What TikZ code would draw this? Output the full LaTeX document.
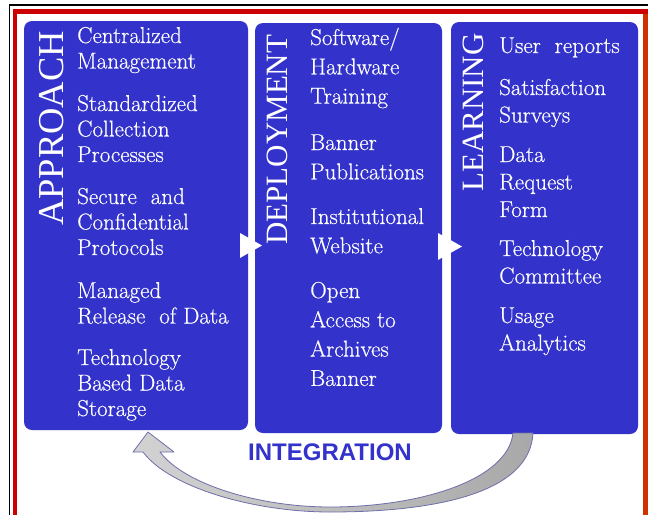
\documentclass[tikz,border=0pt]{standalone}
\usepackage{fontspec}
\setmainfont{Liberation Serif}
\newfontfamily\itemfont[FakeBold=0.4]{Latin Modern Roman}
\newfontfamily\headsans{Liberation Sans}
\definecolor{panelblue}{RGB}{51,51,204}
\definecolor{framered}{RGB}{204,0,0}
\definecolor{frameorange}{RGB}{204,51,0}
\definecolor{arrowline}{RGB}{110,110,170}
% a stack of left-aligned lines whose baseline is that of its first line
\newcommand\itemlines[1]{\begin{tabular}[t]{@{}l@{}}#1\end{tabular}}
\begin{document}
\begin{tikzpicture}[x=1pt,y=-1pt,
  panel/.style={fill=panelblue, rounded corners=8pt, inner sep=0pt},
  steplabel/.style={rotate=90, anchor=base west, inner sep=0pt, text=white},
  itemA/.style={anchor=base west, inner sep=0pt, text=white,
                font=\itemfont\fontsize{23}{25.5}\selectfont},
  itemB/.style={itemA, font=\itemfont\fontsize{23}{29.3}\selectfont},
  itemC/.style={itemA, font=\itemfont\fontsize{23}{27.5}\selectfont},
  flowmark/.style={fill=white}
]
\useasboundingbox (0,0) rectangle (648,515);
\fill[white] (0,0) rectangle (648,515);

% page frame
\draw[black, line width=1.2pt] (9.6,515) -- (9.6,5) -- (648,5);
\fill[framered] (12.5,8.5) rectangle (647.5,13.5);
\fill[framered] (12.5,8.5) rectangle (17.2,515);
\fill[frameorange] (642.5,13.5) rectangle (647.5,515);

% the three stage panels
\node[panel, minimum width=224pt, minimum height=409pt] (approach) at (136,225.5) {};
\node[panel, minimum width=187pt, minimum height=410pt] (deployment) at (348.5,228) {};
\node[panel, minimum width=187pt, minimum height=412pt] (learning) at (544.5,228) {};

% flow markers between panels
\fill[flowmark] (240,233) -- (262,245.5) -- (240,258) -- cycle;
\fill[flowmark] (438,233) -- (462,246.5) -- (438,260) -- cycle;

% stage titles
\node[steplabel, font=\rmfamily\fontsize{36.5}{40}\selectfont] (approachlabel) at (63,226) {APPROACH};
\node[steplabel, font=\rmfamily\fontsize{31}{34}\selectfont] (deploymentlabel) at (287,245) {DEPLOYMENT};
\node[steplabel, font=\rmfamily\fontsize{31}{34}\selectfont] (learninglabel) at (483,192) {LEARNING};

% approach items
\node[itemA] (a1) at (77,43)  {\itemlines{Centralized\\Management}};
\node[itemA] (a2) at (77,111) {\itemlines{Standardized\\Collection\\Processes}};
\node[itemA] (a3) at (77,204) {\itemlines{Secure\ \ and\\Confidential\\Protocols}};
\node[itemA] (a4) at (77,298) {\itemlines{Managed\\Release\ \ of Data}};
\node[itemA] (a5) at (77,365) {\itemlines{Technology\\Based Data\\Storage}};

% deployment items
\node[itemB] (d1) at (310,45)  {\itemlines{Software/\\Hardware\\Training}};
\node[itemB] (d2) at (310,150) {\itemlines{Banner\\Publications}};
\node[itemB] (d3) at (310,224) {\itemlines{Institutional\\Website}};
\node[itemB] (d4) at (310,298) {\itemlines{Open\\Access to\\Archives\\Banner}};

% learning items
\node[itemC] (l1) at (499,53)  {\itemlines{User\ \ reports}};
\node[itemC] (l2) at (499,95)  {\itemlines{Satisfaction\\Surveys}};
\node[itemC] (l3) at (499,162) {\itemlines{Data\\Request\\Form}};
\node[itemC] (l4) at (499,256) {\itemlines{Technology\\Committee}};
\node[itemC] (l5) at (499,323) {\itemlines{Usage\\Analytics}};

% integration loop arrow from learning back to approach
\coordinate (looptip) at (148,432);
\coordinate (looptail) at (523,433);
\path[left color=gray!35, right color=gray!68, draw=arrowline, line width=0.8pt, line join=round]
  (looptip) -- (174,452) -- (160,452)
  .. controls (185,485) and (260,507) .. (330,507)
  .. controls (420,507) and (508,480) .. (513,433)
  -- (533,433)
  .. controls (530,495) and (430,512) .. (330,512)
  .. controls (255,512) and (170,488) .. (143,452)
  -- (133,452) -- cycle;

\node[font=\headsans\bfseries\fontsize{24}{28}\selectfont, text=panelblue, anchor=base, inner sep=0pt]
  (integration) at (330,460.5) {INTEGRATION};
\end{tikzpicture}
\end{document}
